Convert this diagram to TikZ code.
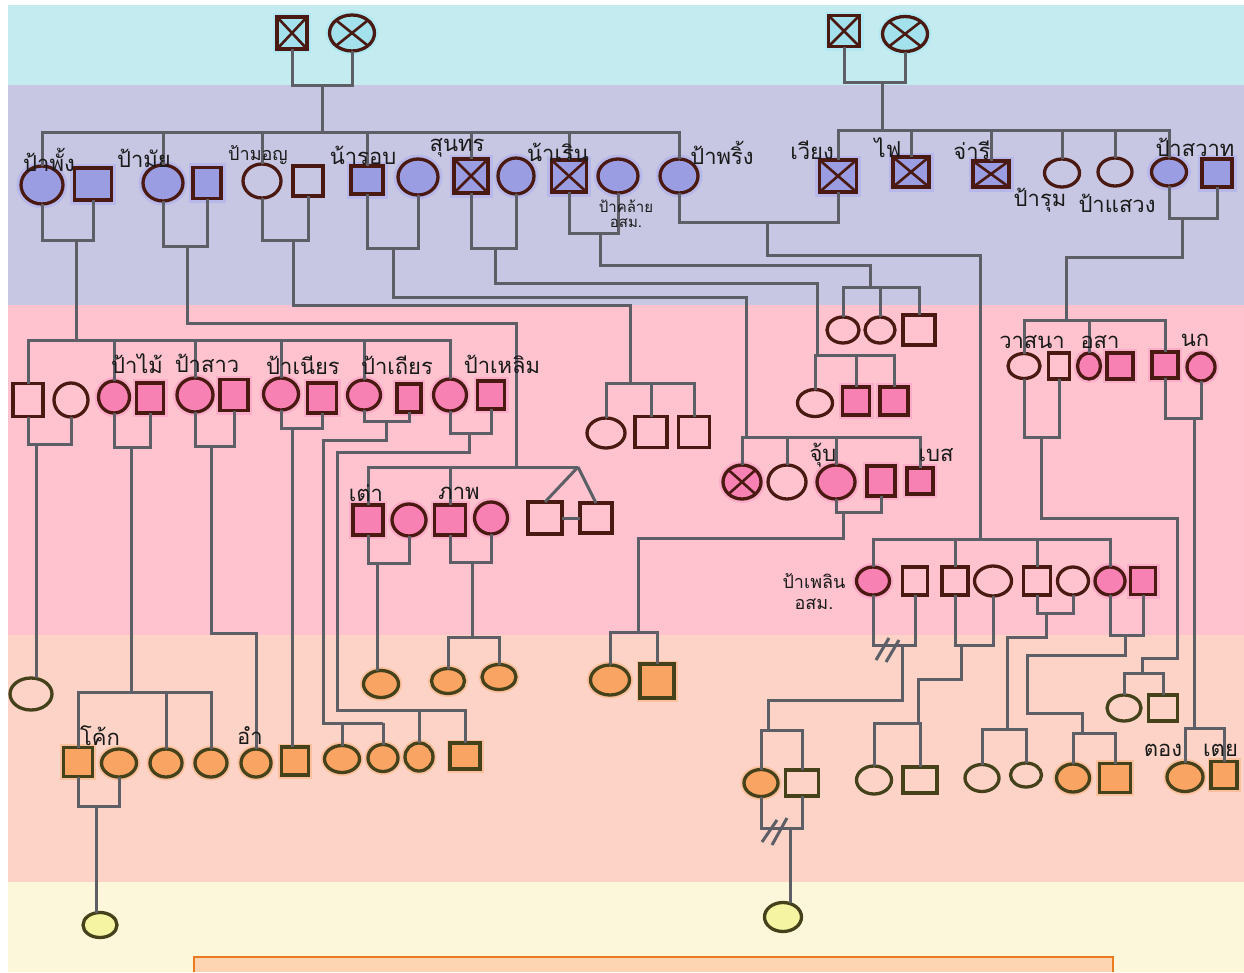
\documentclass[tikz,border=0pt]{standalone}
\usepackage{fontspec}
\newfontfamily\thai[Script=Thai]{Loma}
\usetikzlibrary{shapes.geometric}
\definecolor{cyanb}{HTML}{C3EBF0}
\definecolor{lavb}{HTML}{C7C7E3}
\definecolor{pinkb}{HTML}{FFC3CF}
\definecolor{peachb}{HTML}{FDD3C7}
\definecolor{creamb}{HTML}{FCF6DA}
\definecolor{lnc}{HTML}{5E5E66}
\definecolor{brn}{HTML}{4A1A12}
\definecolor{olv}{HTML}{45421B}
\definecolor{cyf}{HTML}{A3E1EC}
\definecolor{cyg}{HTML}{A8E6F2}
\definecolor{lavf}{HTML}{9A9DE2}
\definecolor{lavg}{HTML}{A9ABF0}
\definecolor{pnkf}{HTML}{F781B2}
\definecolor{pnkg}{HTML}{F99AC4}
\definecolor{orf}{HTML}{F9A463}
\definecolor{org}{HTML}{F9B07A}
\definecolor{yelf}{HTML}{F5F4A2}
\definecolor{boxf}{HTML}{FDD5B3}
\definecolor{boxd}{HTML}{EC7A1F}
\definecolor{txtc}{HTML}{1A1A1A}
\tikzset{
  ln/.style={draw=lnc, line width=3pt},
  sym/.style={draw=brn, line width=3.3pt, inner sep=0pt, outer sep=0pt},
  crossed/.style={path picture={\draw[brn, line width=2.6pt]
     (path picture bounding box.north west) -- (path picture bounding box.south east)
     (path picture bounding box.north east) -- (path picture bounding box.south west);}},
  cy/.style={fill=cyf, preaction={draw=cyg, line width=8pt, draw opacity=0.6}},
  lav/.style={fill=lavf, preaction={draw=lavg, line width=9pt, draw opacity=0.5}},
  pnk/.style={fill=pnkf, preaction={draw=pnkg, line width=8pt, draw opacity=0.55}},
  orng/.style={draw=olv, fill=orf, preaction={draw=org, line width=7pt, draw opacity=0.55}},
  yel/.style={draw=olv, fill=yelf},
  olive/.style={draw=olv},
  lbl/.style={font=\thai\fontsize{22}{24}\selectfont, text=txtc, inner sep=0pt},
  slbl/.style={font=\thai\fontsize{15}{16}\selectfont, text=txtc, inner sep=0pt},
  mlbl/.style={font=\thai\fontsize{18}{20}\selectfont, text=txtc, inner sep=0pt},
}
\newcommand\symM[6]{\node[sym, rectangle, minimum width=#4pt, minimum height=#5pt, #6] (#1) at (#2,#3) {};}
\newcommand\symF[6]{\node[sym, ellipse, minimum width=#4pt, minimum height=#5pt, #6] (#1) at (#2,#3) {};}
\begin{document}
\begin{tikzpicture}[x=1pt,y=-1pt]
\useasboundingbox (0,0) rectangle (1244,972);
\fill[white] (0,0) rectangle (1244,972);
\fill[cyanb] (8,5) rectangle (1244,85);
\fill[lavb] (8,85) rectangle (1244,305);
\fill[pinkb] (8,305) rectangle (1244,635);
\fill[peachb] (8,635) rectangle (1244,882);
\fill[creamb] (8,882) rectangle (1244,972);
\fill[boxf] (194,957) rectangle (1113,972);
\draw[boxd, line width=2.2pt] (194,972) -- (194,957) -- (1113,957) -- (1113,972);

% generation 1
\symM{g1a}{292}{33}{30}{32}{cy,crossed}
\symF{g1b}{352}{33}{45}{36}{cy,crossed}
\symM{g1c}{844}{31}{31}{31}{cy,crossed}
\symF{g1d}{905}{34}{45}{35}{cy,crossed}
% generation 2
\symF{pp}{42}{185}{42}{38}{lav}
\symM{ppH}{93}{184}{37}{32}{lav}
\symF{mai}{163}{183}{40}{36}{lav}
\symM{maiH}{207}{183}{28}{31}{lav}
\symF{mon}{262}{181}{38}{34}{}
\symM{monH}{308}{181}{30}{30}{}
\symM{rob}{367}{180}{32}{28}{lav}
\symF{robW}{418}{177}{40}{36}{lav}
\symM{sun}{471}{176}{34}{34}{lav,crossed}
\symF{sunW}{516}{176}{36}{36}{lav}
\symM{roen}{569}{176}{35}{32}{lav,crossed}
\symF{khl}{618}{176}{40}{34}{lav}
\symF{pring}{679}{176}{38}{34}{lav}
\symM{wiang}{838}{176}{37}{32}{lav,crossed}
\symM{fai}{911}{172}{36}{30}{lav,crossed}
\symM{jari}{991}{174}{36}{26}{lav,crossed}
\symF{rum}{1062}{173}{35}{28}{}
\symF{sawaeng}{1115}{172}{34}{28}{}
\symF{sawat}{1169}{172}{35}{28}{lav}
\symM{sawatH}{1217}{173}{30}{28}{lav}
% generation 3
\symM{c3a}{28}{400}{30}{33}{}
\symF{c3aW}{71}{400}{34}{34}{}
\symF{pmai}{114}{397}{31}{32}{pnk}
\symM{pmaiH}{150}{398}{27}{30}{pnk}
\symF{sao}{195}{395}{36}{34}{pnk}
\symM{saoH}{234}{395}{28}{31}{pnk}
\symF{nian}{281}{394}{35}{32}{pnk}
\symM{nianH}{322}{398}{29}{30}{pnk}
\symF{thian}{364}{395}{33}{30}{pnk}
\symM{thianH}{409}{398}{24}{28}{pnk}
\symF{loem}{450}{395}{33}{32}{pnk}
\symM{loemH}{491}{395}{27}{28}{pnk}
\symM{tao}{368}{520}{30}{30}{pnk}
\symF{taoW}{409}{520}{34}{32}{pnk}
\symM{phap}{450}{520}{31}{30}{pnk}
\symF{phapW}{491}{518}{33}{32}{pnk}
\symM{tw1}{545}{518}{34}{32}{}
\symM{tw2}{596}{518}{32}{30}{}
\symF{mk1}{606}{433}{38}{30}{}
\symM{mk2}{651}{432}{32}{31}{}
\symM{mk3}{694}{432}{31}{31}{}
\symF{jx}{742}{482}{38}{34}{pnk,crossed}
\symF{jw}{787}{482}{38}{34}{}
\symF{jup}{836}{482}{38}{34}{pnk}
\symM{jH}{881}{481}{28}{30}{pnk}
\symM{bes}{920}{481}{26}{26}{pnk}
\symF{sn1}{815}{403}{35}{27}{}
\symM{sn2}{856}{401}{27}{28}{pnk}
\symM{sn3}{894}{401}{28}{28}{pnk}
\symF{rn1}{843}{330}{32}{26}{}
\symF{rn2}{880}{330}{30}{26}{}
\symM{rn3}{919}{330}{32}{30}{}
\symF{phloen}{873}{581}{33}{28}{pnk}
\symM{phH}{915}{581}{25}{28}{}
\symM{s955}{955}{581}{26}{28}{}
\symF{w993}{993}{581}{37}{30}{}
\symM{s1037}{1037}{581}{27}{28}{}
\symF{w1073}{1073}{581}{31}{28}{}
\symF{pc1110}{1110}{581}{30}{28}{pnk}
\symM{h1143}{1143}{581}{25}{27}{pnk}
\symF{wasana}{1024}{366}{32}{25}{}
\symM{wsH}{1059}{366}{21}{26}{}
\symF{osa}{1089}{366}{23}{26}{pnk}
\symM{osaH}{1120}{366}{26}{26}{pnk}
\symM{nokH}{1165}{365}{26}{26}{pnk}
\symF{nok}{1201}{367}{28}{28}{pnk}
% generation 4
\symF{r4a}{31}{694}{42}{32}{olive}
\symM{koke}{78}{762}{29}{29}{orng}
\symF{kokeW}{119}{763}{35}{28}{orng}
\symF{k166}{166}{763}{32}{28}{orng}
\symF{k211}{211}{763}{32}{28}{orng}
\symF{am}{256}{763}{30}{28}{orng}
\symM{nianC}{295}{761}{27}{28}{orng}
\symF{t1}{342}{759}{35}{27}{orng}
\symF{t2}{383}{758}{30}{27}{orng}
\symF{l1}{419}{757}{28}{28}{orng}
\symM{l2}{465}{756}{30}{26}{orng}
\symF{tao4}{381}{684}{35}{27}{orng}
\symF{ph1}{448}{681}{33}{25}{orng}
\symF{ph2}{499}{677}{34}{25}{orng}
\symF{j1}{610}{680}{39}{30}{orng}
\symM{j2}{657}{681}{34}{34}{orng}
\symF{pl1}{761}{783}{34}{27}{orng}
\symM{pl2}{802}{783}{33}{26}{olive}
\symF{k1}{874}{780}{35}{28}{olive}
\symM{k2}{920}{780}{34}{26}{olive}
\symF{k3}{982}{778}{34}{27}{olive}
\symF{k4}{1026}{775}{31}{24}{olive}
\symF{k5}{1073}{778}{33}{28}{orng}
\symM{k6}{1115}{778}{31}{29}{orng}
\symF{ws1}{1124}{708}{34}{26}{olive}
\symM{ws2}{1163}{708}{29}{26}{olive}
\symF{tong}{1185}{777}{36}{29}{orng}
\symM{toei}{1224}{775}{26}{27}{orng}
% generation 5
\symF{yel1}{100}{925}{34}{25}{yel}
\symF{yel2}{783}{917}{37}{29}{yel}

% ---- connectors ----
\coordinate (cpL1) at (322,85); \coordinate (s1) at (322,132);
\draw[ln] (g1a.south) |- (cpL1) -| (g1b.south);
\draw[ln] (cpL1) -- (s1);
\foreach \n in {pp,mai,mon,rob,sun,roen,pring} \draw[ln] (\n.north) |- (s1);
\coordinate (cpR1) at (882,82); \coordinate (s2) at (882,130);
\draw[ln] (g1c.south) |- (cpR1) -| (g1d.south);
\draw[ln] (cpR1) -- (s2);
\foreach \n in {wiang,fai,jari,rum,sawaeng,sawat} \draw[ln] (\n.north) |- (s2);

\coordinate (cpPP) at (76,240); \coordinate (sPP) at (76,340);
\draw[ln] (pp.south) |- (cpPP) -| (ppH.south);
\draw[ln] (cpPP) -- (sPP);
\foreach \n in {c3a,pmai,sao,nian,thian,loem} \draw[ln] (\n.north) |- (sPP);

\coordinate (cpMai) at (187,246); \coordinate (bMai) at (516,323); \coordinate (sMai) at (516,467);
\draw[ln] (mai.south) |- (cpMai) -| (maiH.south);
\draw[ln] (cpMai) |- (bMai) -- (sMai);
\draw[ln] (tao.north) |- (sMai);
\draw[ln] (phap.north) |- (sMai);
\coordinate (twA) at (578,467);
\draw[ln] (sMai) -- (twA);
\draw[ln] (twA) -- (tw1.north);
\draw[ln] (twA) -- (tw2.north);
\draw[ln] (tw1.east) -- (tw2.west);

\coordinate (cpMon) at (293,240); \coordinate (bMon) at (630,305); \coordinate (sMon) at (630,383);
\draw[ln] (mon.south) |- (cpMon) -| (monH.south);
\draw[ln] (cpMon) |- (bMon) -- (sMon);
\foreach \n in {mk1,mk2,mk3} \draw[ln] (\n.north) |- (sMon);

\coordinate (cpRob) at (393,248); \coordinate (bRob) at (746,297); \coordinate (sRob) at (746,437);
\draw[ln] (rob.south) |- (cpRob) -| (robW.south);
\draw[ln] (cpRob) |- (bRob) -- (sRob);
\foreach \n in {jx,jw,jup,bes} \draw[ln] (\n.north) |- (sRob);

\coordinate (cpSun) at (495,248); \coordinate (bSun) at (817,283); \coordinate (sSun) at (817,355);
\draw[ln] (sun.south) |- (cpSun) -| (sunW.south);
\draw[ln] (cpSun) |- (bSun) -- (sSun);
\foreach \n in {sn1,sn2,sn3} \draw[ln] (\n.north) |- (sSun);

\coordinate (cpRoen) at (600,233); \coordinate (bRoen) at (870,265); \coordinate (sRoen) at (870,287);
\draw[ln] (roen.south) |- (cpRoen) -| (khl.south);
\draw[ln] (cpRoen) |- (bRoen) -- (sRoen);
\foreach \n in {rn1,rn2,rn3} \draw[ln] (\n.north) |- (sRoen);

\coordinate (cpPr) at (767,222); \coordinate (bPr) at (980,255); \coordinate (sPr) at (980,539);
\draw[ln] (pring.south) |- (cpPr) -| (wiang.south);
\draw[ln] (cpPr) |- (bPr) -- (sPr);
\foreach \n in {phloen,s955,s1037,pc1110} \draw[ln] (\n.north) |- (sPr);

\coordinate (cpSw) at (1182,218); \coordinate (bSw) at (1066,257); \coordinate (sSw) at (1066,320);
\draw[ln] (sawat.south) |- (cpSw) -| (sawatH.south);
\draw[ln] (cpSw) |- (bSw) -- (sSw);
\foreach \n in {wasana,osa,nokH} \draw[ln] (\n.north) |- (sSw);

% generation 3 couples
\coordinate (cpA) at (36,444);
\draw[ln] (c3a.south) |- (cpA) -| (c3aW.south);
\draw[ln] (cpA) -- (cpA |- r4a.north);
\coordinate (cpPm) at (131,447); \coordinate (sPm) at (131,692);
\draw[ln] (pmai.south) |- (cpPm) -| (pmaiH.south);
\draw[ln] (cpPm) -- (sPm);
\foreach \n in {koke,k166,k211} \draw[ln] (\n.north) |- (sPm);
\coordinate (cpSao) at (211,446); \coordinate (bSao) at (256,633);
\draw[ln] (sao.south) |- (cpSao) -| (saoH.south);
\draw[ln] (cpSao) |- (bSao) -- (am.north);
\coordinate (cpNian) at (292,428);
\draw[ln] (nian.south) |- (cpNian) -| (nianH.south);
\draw[ln] (cpNian) -- (cpNian |- nianC.north);
\coordinate (cpTh) at (386,421); \coordinate (bTh) at (323,440); \coordinate (sTh) at (383,723);
\draw[ln] (thian.south) |- (cpTh) -| (thianH.south);
\draw[ln] (cpTh) |- (bTh) |- (sTh);
\foreach \n in {t1,t2} \draw[ln] (\n.north) |- (sTh);
\coordinate (cpLm) at (469,433); \coordinate (bLm) at (337,452); \coordinate (sLm) at (463,710);
\draw[ln] (loem.south) |- (cpLm) -| (loemH.south);
\draw[ln] (cpLm) |- (bLm) |- (sLm);
\foreach \n in {l1,l2} \draw[ln] (\n.north) |- (sLm);
\coordinate (cpTao) at (377,563);
\draw[ln] (tao.south) |- (cpTao) -| (taoW.south);
\draw[ln] (cpTao) -- (cpTao |- tao4.north);
\coordinate (cpPh) at (472,562); \coordinate (sPh) at (472,637);
\draw[ln] (phap.south) |- (cpPh) -| (phapW.south);
\draw[ln] (cpPh) -- (sPh);
\foreach \n in {ph1,ph2} \draw[ln] (\n.north) |- (sPh);
\coordinate (cpJup) at (843,512); \coordinate (bJup) at (638,538); \coordinate (sJup) at (638,632);
\draw[ln] (jup.south) |- (cpJup) -| (jH.south);
\draw[ln] (cpJup) |- (bJup) -- (sJup);
\foreach \n in {j1,j2} \draw[ln] (\n.north) |- (sJup);
\coordinate (cpPl) at (902,645); \coordinate (bPl) at (768,700); \coordinate (sPl) at (768,730);
\draw[ln] (phloen.south) |- (cpPl) -| (phH.south);
\draw[ln] (cpPl) |- (bPl) -- (sPl);
\foreach \n in {pl1,pl2} \draw[ln] (\n.north) |- (sPl);
\draw[ln] (876,660) -- (889,638);
\draw[ln] (886,662) -- (899,640);
\coordinate (cpPl2) at (790,828);
\draw[ln] (pl1.south) |- (cpPl2) -| (pl2.south);
\draw[ln] (cpPl2) -- (cpPl2 |- yel2.north);
\draw[ln] (762,842) -- (777,820);
\draw[ln] (772,845) -- (787,818);
\coordinate (cpS955) at (961,645); \coordinate (bS955) at (918,679); \coordinate (sS955) at (918,723);
\draw[ln] (s955.south) |- (cpS955) -| (w993.south);
\draw[ln] (cpS955) |- (bS955) -- (sS955);
\foreach \n in {k1,k2} \draw[ln] (\n.north) |- (sS955);
\coordinate (cpS1037) at (1046,613); \coordinate (bS1037) at (1007,637); \coordinate (sS1037) at (1007,729);
\draw[ln] (s1037.south) |- (cpS1037) -| (w1073.south);
\draw[ln] (cpS1037) |- (bS1037) -- (sS1037);
\foreach \n in {k3,k4} \draw[ln] (\n.north) |- (sS1037);
\coordinate (cpPc) at (1125,635); \coordinate (bPc1) at (1027,655); \coordinate (bPc2) at (1082,713); \coordinate (sPc) at (1082,733);
\draw[ln] (pc1110.south) |- (cpPc) -| (h1143.south);
\draw[ln] (cpPc) |- (bPc1) |- (bPc2) -- (sPc);
\foreach \n in {k5,k6} \draw[ln] (\n.north) |- (sPc);
\coordinate (cpWs) at (1041,437); \coordinate (bWs1) at (1177,518); \coordinate (bWs2) at (1142,658); \coordinate (sWs) at (1142,673);
\draw[ln] (wasana.south) |- (cpWs) -| (wsH.south);
\draw[ln] (cpWs) |- (bWs1) |- (bWs2) -- (sWs);
\foreach \n in {ws1,ws2} \draw[ln] (\n.north) |- (sWs);
\coordinate (cpNok) at (1194,418); \coordinate (sNok) at (1194,728);
\draw[ln] (nokH.south) |- (cpNok) -| (nok.south);
\draw[ln] (cpNok) -- (sNok);
\foreach \n in {tong,toei} \draw[ln] (\n.north) |- (sNok);
\coordinate (cpK) at (96,806);
\draw[ln] (koke.south) |- (cpK) -| (kokeW.south);
\draw[ln] (cpK) -- (cpK |- yel1.north);

% ---- labels ----
\node[lbl] (tPP) at (49,160) {ป้าพั้ง};
\node[lbl] (tMai) at (144,158) {ป้ามัย};
\node[mlbl] (tMon) at (258,155) {ป้ามอญ};
\node[lbl] (tRob) at (363,155) {น้ารอบ};
\node[lbl] (tSun) at (457,148) {สุนทร};
\node[lbl] (tRoen) at (558,152) {น้าเริน};
\node[lbl] (tPring) at (722,153) {ป้าพริ้ง};
\node[slbl, align=center] (tKhl) at (626,214) {ป้าคล้าย\\[-1pt]อสม.};
\node[lbl] (tWiang) at (812,150) {เวียง};
\node[lbl] (tFai) at (888,148) {ไฟ};
\node[lbl] (tJari) at (972,150) {จ่ารี};
\node[lbl] (tSawat) at (1195,147) {ป้าสวาท};
\node[lbl] (tRum) at (1040,200) {ป้ารุม};
\node[lbl] (tSaw) at (1117,203) {ป้าแสวง};
\node[lbl] (tPmai) at (137,364) {ป้าไม้};
\node[lbl] (tSao) at (207,363) {ป้าสาว};
\node[lbl] (tNian) at (303,365) {ป้าเนียร};
\node[lbl] (tThian) at (397,365) {ป้าเถียร};
\node[lbl] (tLoem) at (502,364) {ป้าเหลิม};
\node[lbl] (tTao) at (366,493) {เต่า};
\node[lbl] (tPhap) at (459,493) {ภาพ};
\node[lbl] (tJup) at (823,455) {จุ้บ};
\node[lbl] (tBes) at (936,455) {เบส};
\node[mlbl, align=center] (tPhl) at (814,592) {ป้าเพลิน\\[1pt]อสม.};
\node[lbl] (tWas) at (1032,342) {วาสนา};
\node[lbl] (tOsa) at (1100,342) {อสา};
\node[lbl] (tNok) at (1195,340) {นก};
\node[lbl] (tKoke) at (100,736) {โค้ก};
\node[lbl] (tAm) at (250,736) {อำ};
\node[lbl] (tTong) at (1163,750) {ตอง};
\node[lbl, anchor=west] (tToei) at (1203,750) {เตย};
\end{tikzpicture}
\end{document}
